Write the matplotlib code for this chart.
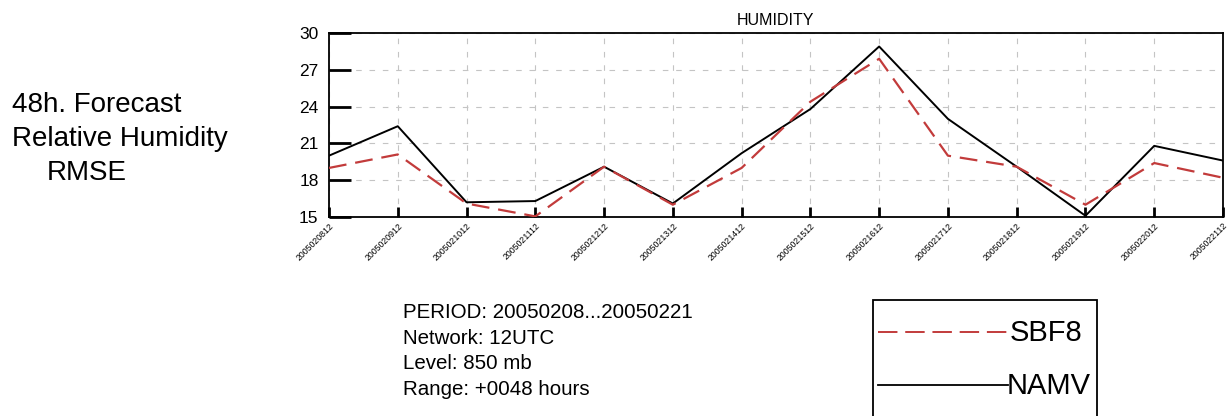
import matplotlib
matplotlib.use("Agg")
import matplotlib.pyplot as plt
from matplotlib.patches import Rectangle
from matplotlib.lines import Line2D
from matplotlib.transforms import ScaledTranslation

plt.rcParams['font.family'] = ['Liberation Sans', 'DejaVu Sans']

dates = ["2005020812", "2005020912", "2005021012", "2005021112", "2005021212",
         "2005021312", "2005021412", "2005021512", "2005021612", "2005021712",
         "2005021812", "2005021912", "2005022012", "2005022112"]
sbf8 = [19.0, 20.1, 16.1, 15.05, 19.1, 16.0, 19.0, 24.4, 27.9, 20.0, 19.1, 16.0, 19.4, 18.2]
namv = [20.0, 22.4, 16.2, 16.3, 19.1, 16.1, 20.2, 23.8, 28.9, 23.0, 19.1, 15.1, 20.8, 19.6]
yticks = [15, 18, 21, 24, 27, 30]
title = "HUMIDITY"
side_lines = ["48h. Forecast", "Relative Humidity", "RMSE"]
info_lines = ["PERIOD: 20050208...20050221", "Network: 12UTC", "Level: 850 mb", "Range: +0048 hours"]
legend_names = ["SBF8", "NAMV"]

RED = "#c23b3b"
W, H = 1232, 416
fig = plt.figure(figsize=(W / 100, H / 100), dpi=100)
ax = fig.add_axes([329 / W, 1 - 217 / H, (1223 - 329) / W, (217 - 33) / H])

x = list(range(len(dates)))
ax.plot(x, namv, color="black", lw=1.4, zorder=3)
ax.plot(x, sbf8, color=RED, lw=1.6, dashes=(8, 4), zorder=4)

ax.set_xlim(0, len(dates) - 1)
ax.set_ylim(15, 30)
ax.set_yticks(yticks)
ax.set_yticklabels([str(v) for v in yticks], fontsize=12.5)
ax.set_xticks(x)
ax.set_xticklabels(dates, rotation=45, ha="right", rotation_mode="anchor", fontsize=6.3)
for lab in ax.get_xticklabels():
    lab.set_transform(lab.get_transform() + ScaledTranslation(4 / 100, 0, fig.dpi_scale_trans))
ax.tick_params(axis="y", direction="in", length=16, width=2.0, pad=7.5)
ax.tick_params(axis="x", direction="in", length=7, width=2.0, pad=3)
ax.grid(True, color="#c4c4c4", lw=0.8, dashes=(5, 7))
for s in ax.spines.values():
    s.set_linewidth(1.3)
ax.set_title(title, fontsize=11.5, pad=6)

# left annotation
for t, xx, yy in zip(side_lines, [12, 12, 47], [112, 145.5, 179.5]):
    fig.text(xx / W, 1 - yy / H, t, fontsize=20, va="baseline", ha="left")

# info block
for i, t in enumerate(info_lines):
    fig.text(403 / W, 1 - (318 + 25.7 * i) / H, t, fontsize=14.8, va="baseline", ha="left")

# legend box
box = Rectangle((873 / W, 1 - 440 / H), (1097 - 873) / W, (440 - 300) / H,
                transform=fig.transFigure, fill=False, lw=1.3, ec="black")
fig.add_artist(box)
fig.add_artist(Line2D([878 / W, 1009 / W], [1 - 332 / H] * 2, transform=fig.transFigure,
                      color=RED, lw=1.4, dashes=(10, 4)))
fig.add_artist(Line2D([878 / W, 1008 / W], [1 - 385 / H] * 2, transform=fig.transFigure,
                      color="black", lw=1.3))
fig.text(1010 / W, 1 - 333 / H, legend_names[0], fontsize=21, va="center", ha="left")
fig.text(1007 / W, 1 - 386 / H, legend_names[1], fontsize=21, va="center", ha="left")

fig.savefig("out.png", dpi=100)
